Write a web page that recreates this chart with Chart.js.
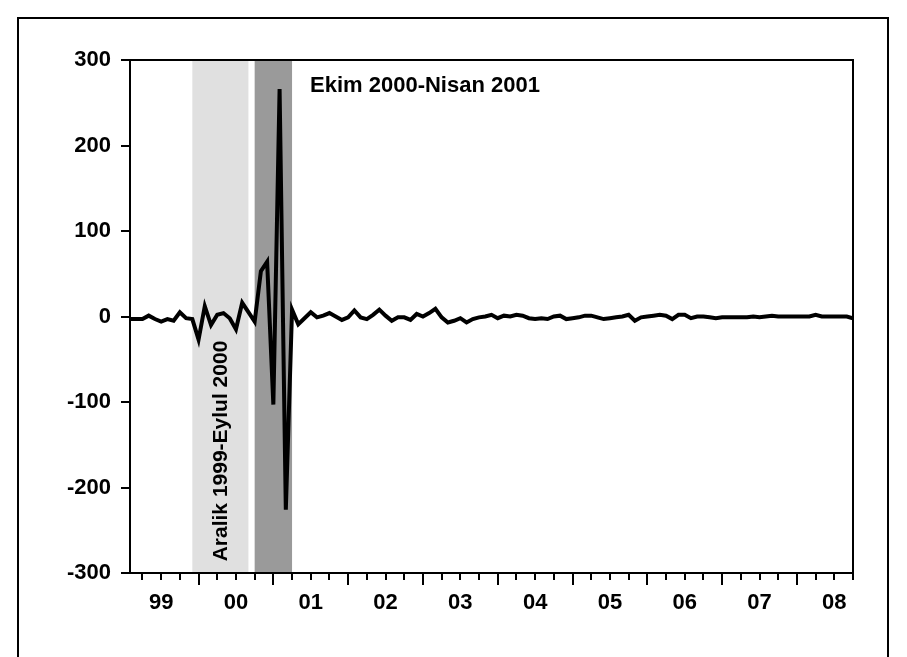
<!DOCTYPE html>
<html>
<head>
<meta charset="utf-8">
<script src="https://cdn.jsdelivr.net/npm/chart.js@4"></script>
<style>
html,body{margin:0;padding:0;background:#fff;}
#wrap{position:relative;width:907px;height:657px;overflow:hidden;}
#frame{position:absolute;left:17px;top:17px;width:872px;height:700px;border:2px solid #000;box-sizing:border-box;}
canvas{position:absolute;left:0;top:0;}
</style>
</head>
<body>
<div id="wrap"><div id="frame"></div><canvas id="c" width="907" height="657"></canvas></div>
<script>
(function(){
// months counted from Jan 1999 (0); series runs 1999M02 .. 2008M10
var firstMonth = 1, lastMonth = 117;
var yearLabels = ["99","00","01","02","03","04","05","06","07","08"];
var yTicks = [-300,-200,-100,0,100,200,300];

var values = [
  -3,-3,-3,1,-3,-6,-3,-5,5,-2,-3,               // 1999 Feb-Dec
  -27,12,-10,2,4,-2,-15,16,5,-6,53,64,           // 2000
  -103,266,-226,8,-9,-2,5,-1,1,4,0,-4,           // 2001
  -1,7,-1,-3,2,8,1,-5,-1,-1,-4,3,                // 2002
  0,4,9,-1,-7,-5,-2,-7,-3,-1,0,2,                // 2003
  -2,1,0,2,1,-2,-3,-2,-3,0,1,-3,                 // 2004
  -2,-1,1,1,-1,-3,-2,-1,0,2,-5,-1,               // 2005
  0,1,2,1,-3,2,2,-2,0,0,-1,-2,                   // 2006
  -1,-1,-1,-1,-1,0,-1,0,1,0,0,0,                 // 2007
  0,0,0,2,0,0,0,0,0,-2                           // 2008 Jan-Oct
];

// shaded periods [from, to] in months from Jan 1999
var bands = [
  { from: 11, to: 20, color: "#e0e0e0" },  // Aralik 1999 - Eylul 2000
  { from: 21, to: 27, color: "#9a9a9a" }   // Ekim 2000 - Nisan 2001
];

var points = [];
for (var i=0;i<values.length;i++){ points.push({ x: firstMonth + i, y: values[i] }); }

var quarterTicks = [];
for (var q=3;q<=lastMonth;q+=3){ quarterTicks.push(q); }

var FONT = "'Liberation Sans', Arial, sans-serif";

var bandsPlugin = {
  id: "bands",
  beforeDraw: function(chart){
    var ctx = chart.ctx, xs = chart.scales.x, a = chart.chartArea;
    ctx.save();
    for (var b=0;b<bands.length;b++){
      var x0 = xs.getPixelForValue(bands[b].from), x1 = xs.getPixelForValue(bands[b].to);
      ctx.fillStyle = bands[b].color;
      ctx.fillRect(x0, a.top, x1-x0, a.bottom-a.top);
    }
    ctx.restore();
  }
};

var decoPlugin = {
  id: "deco",
  afterDraw: function(chart){
    var ctx = chart.ctx, xs = chart.scales.x, ys = chart.scales.y, a = chart.chartArea;
    ctx.save();
    ctx.strokeStyle = "#000"; ctx.lineWidth = 2;
    ctx.strokeRect(a.left, a.top, a.right-a.left, a.bottom-a.top);
    ctx.beginPath();
    for (var t=0;t<yTicks.length;t++){
      var y = Math.round(ys.getPixelForValue(yTicks[t]));
      ctx.moveTo(a.left-9, y); ctx.lineTo(a.left, y);
    }
    for (var k=0;k<quarterTicks.length;k++){
      var v = quarterTicks[k], x = Math.round(xs.getPixelForValue(v));
      var len = (v % 12 === 0) ? 12 : 7;
      ctx.moveTo(x, a.bottom); ctx.lineTo(x, a.bottom+len);
    }
    ctx.stroke();

    ctx.fillStyle = "#000";
    ctx.font = "bold 22px " + FONT;
    ctx.textAlign = "left"; ctx.textBaseline = "middle";
    ctx.fillText("Ekim 2000-Nisan 2001", 310, 86);

    ctx.font = "bold 21px " + FONT;
    var cx = (xs.getPixelForValue(bands[0].from) + xs.getPixelForValue(bands[0].to)) / 2 + 1;
    ctx.translate(cx, 451);
    ctx.rotate(-Math.PI/2);
    ctx.textAlign = "center";
    ctx.fillText("Aralik 1999-Eylul 2000", 0, 0);
    ctx.restore();
  }
};

new Chart(document.getElementById("c"), {
  type: "line",
  data: { datasets: [{ data: points, borderColor: "#000", borderWidth: 4, pointRadius: 0, tension: 0, fill: false }] },
  options: {
    responsive: false,
    animation: false,
    layout: { padding: { top: 60, right: 54, left: 0, bottom: 0 } },
    plugins: { legend: { display: false }, tooltip: { enabled: false } },
    scales: {
      x: {
        type: "linear", min: firstMonth, max: lastMonth,
        grid: { display: false, drawTicks: false },
        border: { display: false },
        afterBuildTicks: function(s){ s.ticks = quarterTicks.map(function(v){ return { value: v }; }); },
        afterFit: function(s){ s.height = 84; },
        ticks: {
          autoSkip: false, maxRotation: 0, padding: 17, color: "#000",
          font: { family: FONT, size: 22, weight: "bold" },
          callback: function(v){ return (v % 12 === 6) ? yearLabels[(v-6)/12] : ""; }
        }
      },
      y: {
        min: -300, max: 300,
        grid: { display: false, drawTicks: false },
        border: { display: false },
        afterBuildTicks: function(s){ s.ticks = yTicks.map(function(v){ return { value: v }; }); },
        afterFit: function(s){ s.width = 130; },
        ticks: { padding: 19, color: "#000", font: { family: FONT, size: 22, weight: "bold" } }
      }
    }
  },
  plugins: [bandsPlugin, decoPlugin]
});
})();
</script>
</body>
</html>
